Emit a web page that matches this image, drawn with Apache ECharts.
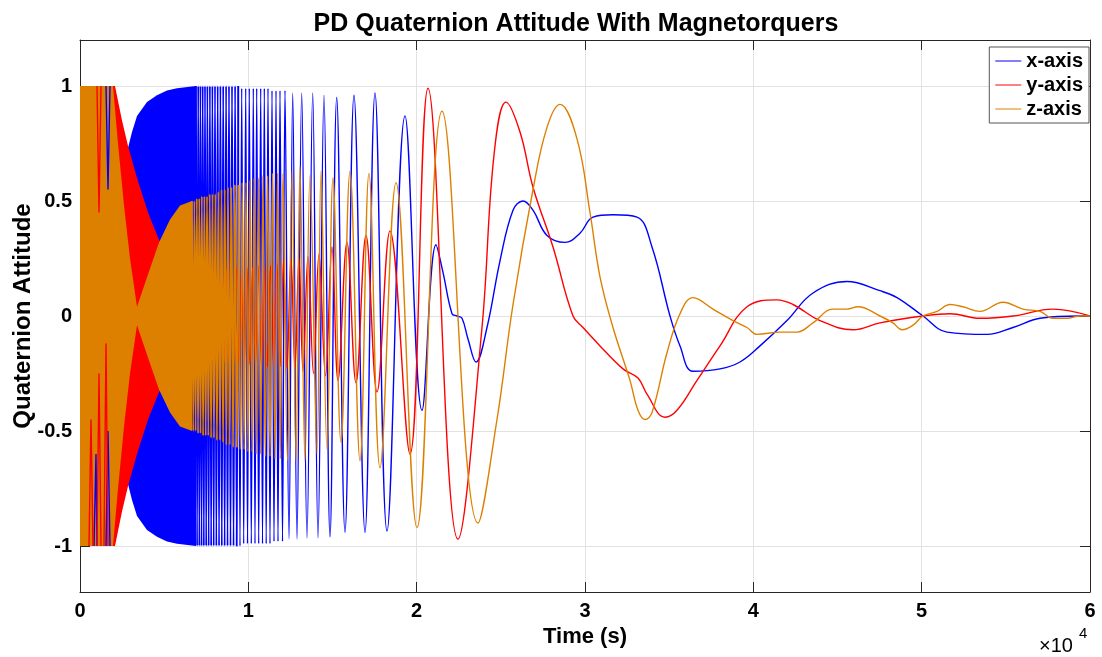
<!DOCTYPE html>
<html>
<head>
<meta charset="utf-8">
<script src="https://cdn.jsdelivr.net/npm/echarts@6/dist/echarts.min.js"></script>
<style>
  html, body { margin: 0; padding: 0; background: #fff; }
  #chart { width: 1102px; height: 657px; }
</style>
</head>
<body>
<div id="chart"></div>
<script>
// time in seconds, quaternion component value
const seriesNames = ['x-axis', 'y-axis', 'z-axis'];
const xTicks = [0, 10000, 20000, 30000, 40000, 50000, 60000];
const yTicks = [-1, -0.5, 0, 0.5, 1];

// envelopes of the parts that are too dense to see single swings
const xBandTop = [[2376, 0.5], [2614, 0.63], [2851, 0.73], [3089, 0.8], [3386, 0.87], [3980, 0.93], [4574, 0.96], [5168, 0.98], [5762, 0.99], [6891, 1.0]];
const xBandBottom = [[2376, -0.5], [2614, -0.63], [2851, -0.73], [3089, -0.8], [3386, -0.87], [3980, -0.93], [4574, -0.96], [5168, -0.98], [5762, -0.99], [6891, -1.0]];
const yBandTop = [[0, 1.0], [2079, 1.0], [2495, 0.85], [2851, 0.74], [3386, 0.6], [4040, 0.45], [4693, 0.33], [5644, 0.26], [6535, 0.22], [7426, 0.2]];
const yBandBottom = [[0, -1.0], [2079, -1.0], [2495, -0.85], [2851, -0.74], [3386, -0.6], [4040, -0.45], [4693, -0.33], [5644, -0.26], [6535, -0.22], [7426, -0.2]];
const zBandTop = [[0, 1.0], [1960, 1.0], [2257, 0.75], [2614, 0.48], [2970, 0.25], [3386, 0.04], [4040, 0.18], [4693, 0.32], [5347, 0.42], [5941, 0.48], [6653, 0.5]];
const zBandBottom = [[0, -1.0], [1960, -1.0], [2257, -0.75], [2614, -0.48], [2970, -0.25], [3386, -0.04], [4040, -0.18], [4693, -0.32], [5347, -0.42], [5941, -0.48], [6653, -0.5]];

// thin streaks showing through at the very start
const xStreaks = [[832, -1], [950, -0.6], [1010, -1], ['-', '-'], [1545, 1], [1663, 0.55], [1782, 1], ['-', '-'], [1545, -1], [1663, -0.5], [1782, -1]];
const yStreaks = [[1010, 1], [1129, 0.45], [1248, 1], ['-', '-'], [535, -1], [653, -0.45], [772, -1], ['-', '-'], [1010, -1], [1129, -0.25], [1248, -1], ['-', '-'], [1426, -1], [1545, -0.12], [1663, -1]];

// fast swings right after the solid parts
const xFast = [
  [6891, 1.0], [6956, -1.0], [7022, 1.0], [7087, -1.0], [7153, 1.0], [7221, -1.0], [7289, 1.0], [7357, -1.0],
  [7426, 1.0], [7497, -1.0], [7568, 1.0], [7643, -1.0], [7717, 1.0], [7791, -1.0], [7865, 1.0], [7943, -1.0],
  [8020, 1.0], [8100, -1.0], [8180, 1.0], [8260, -1.0], [8341, 1.0], [8424, -1.0], [8507, 1.0], [8593, -1.0],
  [8679, 1.0], [8765, -1.0], [8851, 1.0], [8941, -1.0], [9030, 1.0], [9122, -1.0], [9214, 1.0], [9309, -1.0],
  [9404, 1.0]
];
const zFast = [
  [6653, 0.5], [6725, -0.5], [6796, 0.5], [6867, -0.5], [6939, 0.51], [7013, -0.51], [7087, 0.51], [7161, -0.51],
  [7236, 0.52], [7313, -0.52], [7390, 0.52], [7467, -0.52], [7545, 0.52], [7625, -0.52], [7705, 0.53], [7788, -0.53],
  [7871, 0.53], [7957, -0.53], [8044, 0.53], [8133, -0.54], [8222, 0.54], [8314, -0.54], [8406, 0.55], [8501, -0.55],
  [8596, 0.55], [8694, -0.56], [8792, 0.56], [8893, -0.56], [8994, 0.56], [9098, -0.57], [9202, 0.57], [9309, -0.57],
  [9416, 0.57]
];

// slower swings and the settling motion
const xLine = [
  [9404, 1.0], [9505, -1.0], [9606, 0.99], [9725, -0.99], [9844, 0.99], [9950, -0.99], [10057, 0.99], [10176, -0.99],
  [10295, 0.99], [10396, -0.99], [10497, 0.99], [10616, -0.99], [10735, 0.99], [10842, -0.99], [10949, 0.99], [11061, -0.99],
  [11168, 0.99], [11287, -0.99], [11406, 0.98], [11525, -0.98], [11644, 0.98], [11762, -0.98], [11881, 0.98], [12030, -0.98],
  [12178, 0.98], [12416, -0.97], [12636, 0.97], [12891, -0.97], [13170, 0.97], [13485, -0.965], [13824, 0.97], [14139, -0.965],
  [14495, 0.96], [14852, -0.96], [15250, 0.95], [15743, -0.94], [16277, 0.96], [16931, -0.94], [17525, 0.97], [18238, -0.935],
  [19307, 0.87], [20317, -0.41], [21149, 0.31], [21564, 0.19], [22099, 0.01], [22396, 0.0], [22693, -0.01], [23050, -0.1],
  [23525, -0.2], [24178, -0.05], [24951, 0.24], [25723, 0.46], [26317, 0.5], [26911, 0.46], [27743, 0.35], [28812, 0.32],
  [29703, 0.36], [30475, 0.43], [31663, 0.44], [33089, 0.43], [33980, 0.3], [35050, 0.0], [35644, -0.13], [36416, -0.24],
  [38020, -0.23], [39208, -0.2], [40396, -0.13], [42000, -0.02], [43545, 0.1], [45564, 0.15], [47525, 0.11], [48535, 0.08],
  [50079, 0.0], [51505, -0.07], [53881, -0.08], [55426, -0.05], [57030, -0.01], [59406, 0.0], [60000, 0.0]
];
const yLine = [
  [7426, 0.2], [7545, -0.2], [7663, 0.2], [7788, -0.2], [7913, 0.2], [8041, -0.2], [8168, 0.2], [8302, -0.2],
  [8436, 0.2], [8572, -0.2], [8709, 0.2], [8851, -0.2], [8994, 0.2], [9143, -0.2], [9291, 0.21], [9446, -0.21],
  [9600, 0.21], [9760, -0.21], [9921, 0.21], [10087, -0.21], [10254, 0.21], [10426, -0.21], [10598, 0.22], [10776, -0.22],
  [10954, 0.22], [11139, -0.22], [11323, 0.22], [11513, -0.22], [11703, 0.23], [11893, -0.22], [12089, 0.24], [12297, -0.23],
  [12535, 0.25], [12772, -0.23], [13010, 0.25], [13248, -0.24], [13545, 0.26], [13871, -0.25], [14198, 0.27], [14584, -0.26],
  [14970, 0.3], [15327, -0.28], [15861, 0.32], [16396, -0.29], [16990, 0.35], [17644, -0.33], [18416, 0.37], [19604, -0.6],
  [20673, 0.99], [22455, -0.97], [23881, -0.05], [24594, 0.7], [25307, 0.93], [26139, 0.8], [26911, 0.56], [28099, 0.3],
  [29287, 0.0], [29881, -0.05], [30891, -0.13], [32257, -0.23], [33149, -0.27], [33683, -0.34], [34753, -0.44], [35465, -0.41],
  [36654, -0.28], [38020, -0.13], [39624, 0.04], [41406, 0.07], [42356, 0.05], [43960, -0.02], [45921, -0.06], [47525, -0.03],
  [50079, 0.0], [51683, 0.01], [53465, -0.01], [55426, 0.0], [57802, 0.03], [60000, 0.0]
];
const zLine = [
  [9416, 0.57], [9526, -0.58], [9636, 0.58], [9748, -0.58], [9861, 0.58], [9980, -0.59], [10099, 0.59], [10221, -0.59],
  [10342, 0.6], [10470, -0.6], [10598, 0.6], [10732, -0.6], [10865, 0.61], [11005, -0.61], [11145, 0.61], [11290, -0.61],
  [11436, 0.62], [11587, -0.62], [11739, 0.62], [11899, -0.62], [12059, 0.62], [12327, -0.63], [12594, 0.63], [12832, -0.63],
  [13069, 0.65], [13366, -0.63], [13663, 0.61], [14079, -0.6], [14317, 0.63], [14673, -0.58], [15030, 0.6], [15505, -0.55],
  [16040, 0.63], [16634, -0.63], [17168, 0.62], [17822, -0.66], [18772, 0.58], [20020, -0.92], [21505, 0.89], [23644, -0.9],
  [24772, -0.45], [25723, 0.05], [26911, 0.55], [27743, 0.82], [28515, 0.92], [29525, 0.77], [30297, 0.45], [30891, 0.17],
  [31663, -0.05], [32673, -0.28], [33149, -0.41], [33564, -0.45], [33980, -0.42], [34871, -0.16], [35644, 0.01], [36416, 0.08],
  [37604, 0.03], [38792, -0.02], [39624, -0.05], [40218, -0.08], [41584, -0.07], [42594, -0.07], [43545, -0.03], [44733, 0.03],
  [45564, 0.03], [46218, 0.04], [47525, 0.0], [48297, -0.03], [48832, -0.06], [49485, -0.04], [50079, 0.0], [50911, 0.02],
  [51683, 0.05], [52455, 0.04], [53465, 0.02], [54832, 0.06], [56020, 0.03], [57030, 0.02], [57802, -0.01], [58634, -0.01],
  [59406, 0.0], [60000, 0.0]
];

const colors = ['#0000ff', '#ff0000', '#dd8000'];
const font = 'Liberation Sans, Arial, Helvetica, sans-serif';
const axisColor = '#262626';

const band = function (name, color, top, bottom) {
  return {
    name: name,
    type: 'custom',
    silent: true,
    itemStyle: { color: color },
    data: [top[0]],
    renderItem: function (params, api) {
      const pts = top.map(p => api.coord(p)).concat(bottom.slice().reverse().map(p => api.coord(p)));
      return { type: 'polygon', shape: { points: pts }, style: { fill: color } };
    }
  };
};

const line = function (name, color, data, smooth, width) {
  return {
    name: name,
    type: 'line',
    data: data,
    symbol: 'none',
    showSymbol: false,
    smooth: smooth,
    silent: true,
    itemStyle: { color: color },
    lineStyle: { width: width, color: color }
  };
};

let myChart = echarts.init(document.getElementById('chart'));

myChart.setOption({
  animation: false,
  title: {
    text: 'PD Quaternion Attitude With Magnetorquers',
    left: 571,
    top: 7,
    textAlign: 'center',
    textStyle: { fontSize: 25, fontWeight: 'bold', color: '#000', fontFamily: font }
  },
  legend: {
    data: seriesNames,
    orient: 'vertical',
    right: 13,
    top: 47,
    icon: 'rect',
    itemWidth: 26,
    itemHeight: 1,
    itemGap: 4,
    padding: [4, 6, 4, 6],
    backgroundColor: '#fff',
    borderColor: '#555',
    borderWidth: 1,
    textStyle: { fontSize: 20, fontWeight: 'bold', color: '#000', fontFamily: font }
  },
  grid: { left: 80, right: 12, top: 40, bottom: 65, outerBoundsMode: 'none', containLabel: false },
  xAxis: [
    {
      type: 'value', min: 0, max: 60000, interval: 10000, position: 'bottom',
      name: 'Time (s)', nameLocation: 'middle', nameGap: 31,
      nameTextStyle: { fontSize: 22, fontWeight: 'bold', color: '#000', fontFamily: font },
      axisLine: { show: true, onZero: false, lineStyle: { color: axisColor } },
      axisTick: { show: true, inside: true, length: 10, lineStyle: { color: axisColor } },
      axisLabel: { formatter: v => String(v / 10000), fontSize: 20, fontWeight: 'bold', color: '#000', fontFamily: font, margin: 9 },
      splitLine: { show: true, lineStyle: { color: '#e2e2e2' } }
    },
    {
      type: 'value', min: 0, max: 60000, interval: 10000, position: 'top',
      axisLine: { show: true, onZero: false, lineStyle: { color: axisColor } },
      axisTick: { show: true, inside: true, length: 10, lineStyle: { color: axisColor } },
      axisLabel: { show: false },
      splitLine: { show: false }
    }
  ],
  yAxis: [
    {
      type: 'value', min: -1.2, max: 1.2, position: 'left',
      name: 'Quaternion Attitude', nameLocation: 'middle', nameGap: 45, nameMoveOverlap: false,
      nameTextStyle: { fontSize: 24, fontWeight: 'bold', color: '#000', fontFamily: font },
      axisLine: { show: true, onZero: false, lineStyle: { color: axisColor } },
      axisTick: { show: true, inside: true, length: 10, customValues: yTicks, lineStyle: { color: axisColor } },
      axisLabel: { customValues: yTicks, formatter: v => String(v), fontSize: 20, fontWeight: 'bold', color: '#000', fontFamily: font, margin: 8 },
      splitLine: { show: true, lineStyle: { color: '#e2e2e2' } }
    },
    {
      type: 'value', min: -1.2, max: 1.2, position: 'right',
      axisLine: { show: true, onZero: false, lineStyle: { color: axisColor } },
      axisTick: { show: true, inside: true, length: 10, customValues: yTicks, lineStyle: { color: axisColor } },
      axisLabel: { show: false },
      splitLine: { show: false }
    }
  ],
  graphic: [
    { type: 'text', left: 1039, top: 636, style: { text: '×10', fontSize: 20, fill: '#000', fontFamily: font } },
    { type: 'text', left: 1079, top: 626, style: { text: '4', fontSize: 15, fill: '#000', fontFamily: font } }
  ],
  series: [
    band(seriesNames[0], colors[0], xBandTop, xBandBottom),
    line(seriesNames[0], colors[0], xFast, 0.4, 1.8),
    line(seriesNames[0], colors[0], xLine, 0.4, 1.4),
    band(seriesNames[1], colors[1], yBandTop, yBandBottom),
    line(seriesNames[1], colors[1], yLine, 0.4, 1.4),
    band(seriesNames[2], colors[2], zBandTop, zBandBottom),
    line(seriesNames[2], colors[2], zFast, 0.4, 1.8),
    line(seriesNames[2], colors[2], zLine, 0.4, 1.4),
    line(seriesNames[0], colors[0], xStreaks, false, 1.4),
    line(seriesNames[1], colors[1], yStreaks, false, 1.4)
  ]
});

window.addEventListener('resize', myChart.resize);
</script>
</body>
</html>
